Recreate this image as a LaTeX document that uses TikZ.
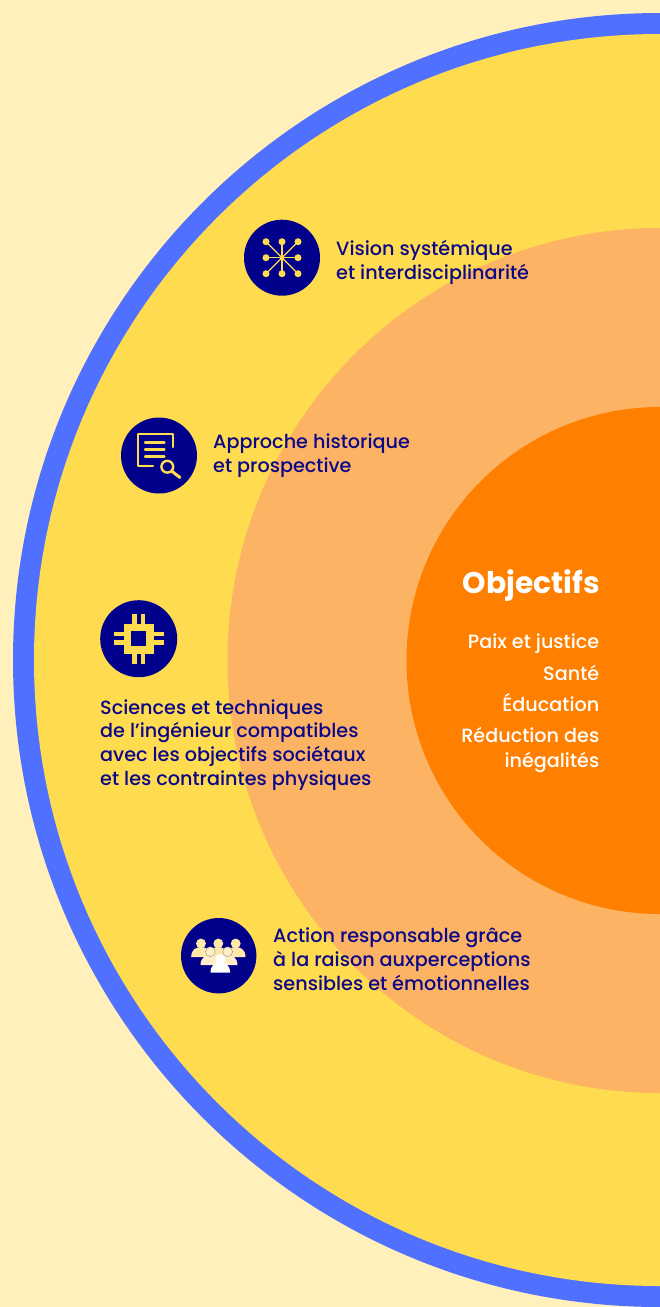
\documentclass[tikz,border=0pt]{standalone}
\usepackage{fontspec}
\setmainfont{Poppins Medium}[BoldFont=Poppins Bold]
\definecolor{bgc}{HTML}{FFF0BC}
\definecolor{ringb}{HTML}{5071FF}
\definecolor{yel}{HTML}{FFDB4F}
\definecolor{lor}{HTML}{FCB364}
\definecolor{orn}{HTML}{FF8000}
\definecolor{navy}{HTML}{00008B}
\definecolor{ink}{HTML}{0C0688}
\definecolor{pcream}{HTML}{FFE9A8}
\definecolor{pmid}{HTML}{FFEFC8}
\tikzset{
  px/.style={x=1pt,y=-1pt},
  badge/.style={fill=navy,draw=none},
  lbl/.style={font=\fontsize{19.2}{23.9}\selectfont,text=ink,align=left,anchor=west,inner sep=0pt},
  obj/.style={font=\fontsize{19.2}{24.4}\selectfont,text=white,align=right,anchor=base east,inner sep=0pt},
  ico/.style={draw=yel,line width=2.1pt,fill=none},
  icofill/.style={fill=yel,draw=none},
  sat/.style={fill=yel,draw=none}
}
% person: #1 = x, #2 = y of head centre, #3 colour
\newcommand{\mkperson}[3]{%
  \fill[#3] (#1,#2) circle (4.9);
  \fill[#3] (#1-9.8,#2+13.5) .. controls (#1-9.8,#2+6) and (#1-5,#2+3.6) .. (#1,#2+3.6) .. controls (#1+5,#2+3.6) and (#1+9.8,#2+6) .. (#1+9.8,#2+13.5) -- cycle;
}
\begin{document}
\begin{tikzpicture}[px]
\useasboundingbox (0,0) rectangle (660,1307);
\fill[bgc] (0,0) rectangle (660,1307);
\begin{scope}
\clip (0,0) rectangle (660,1307);
\fill[ringb] (660,660) circle (647);
\fill[yel] (660,660) circle (626);
\fill[lor] (660,660.5) circle (432.5);
\fill[orn] (660,660.5) circle (253.5);
\end{scope}

% network icon
\fill[badge] (282,257.7) circle (38);
\foreach \dx/\dy in {-16/-16,0/-16,16/-16,-16/0,16/0,-16/16,0/16,16/16}{
  \draw[yel,line width=1.3pt] (282,257.7) -- ++(\dx,\dy);
  \fill[sat] (282+\dx,257.7+\dy) circle (3.5);
}
\fill[sat] (282,257.7) circle (2.2);

% document icon
\fill[badge] (159,455.5) circle (38);
\draw[ico,line cap=round,line join=round] (172.7,447) -- (172.7,434.2) -- (138.2,434.2) -- (138.2,466.2) -- (153,466.2);
\foreach \yy in {442.5,449.5,456.5}{\draw[ico,line cap=round] (145,\yy) -- (164.5,\yy);}
\draw[yel,line width=2.4pt] (167.3,466.7) circle (5.9);
\draw[yel,line width=3pt,line cap=round] (172,471.4) -- (180,477.5);

% chip icon
\fill[badge] (138.7,638.7) circle (38.5);
\foreach \xa in {132,140.8}{\fill[icofill] (\xa,613.7) rectangle (\xa+4.5,663.7);}
\foreach \ya in {632,640.3}{\fill[icofill] (113.7,\ya) rectangle (163.7,\ya+4.2);}
\fill[icofill] (123.7,624.3) rectangle (154.3,653.7);
\fill[navy] (131,631) rectangle (146,646);

% people icon
\fill[badge] (218.7,955.7) circle (37.7);
\mkperson{201}{943.5}{pcream}
\mkperson{218.3}{943.5}{pcream}
\mkperson{235.7}{943.5}{pcream}
\mkperson{210.3}{951.7}{pmid}
\mkperson{227.7}{951.7}{pmid}
\draw[navy!35!pcream,line width=.5pt] (210.3,951.7) circle (4.9) (227.7,951.7) circle (4.9);
\mkperson{220.3}{959}{white}

% labels
\node[lbl] (vision) at (336,262) {Vision systémique\\et interdisciplinarité};
\node[lbl] (histo) at (213,455.5) {Approche historique\\et prospective};
\node[lbl] (sci) at (100,745) {Sciences et techniques\\de l’ingénieur compatibles\\avec les objectifs sociétaux\\et les contraintes physiques};
\node[lbl] (act) at (273,959.5) {Action responsable grâce\\à la raison auxperceptions\\sensibles et émotionnelles};

\node[font=\fontsize{29.8}{30}\selectfont\bfseries,text=white,anchor=base east,inner sep=0pt] (titre) at (600.2,593) {Objectifs};
\node[obj] (paix) at (599.5,648) {Paix et justice};
\node[obj] (sante) at (599.5,680) {Santé};
\node[obj] (edu) at (599.5,711) {Éducation};
\node[obj] (red) at (599.5,767) {Réduction des\\inégalités};
\end{tikzpicture}
\end{document}
